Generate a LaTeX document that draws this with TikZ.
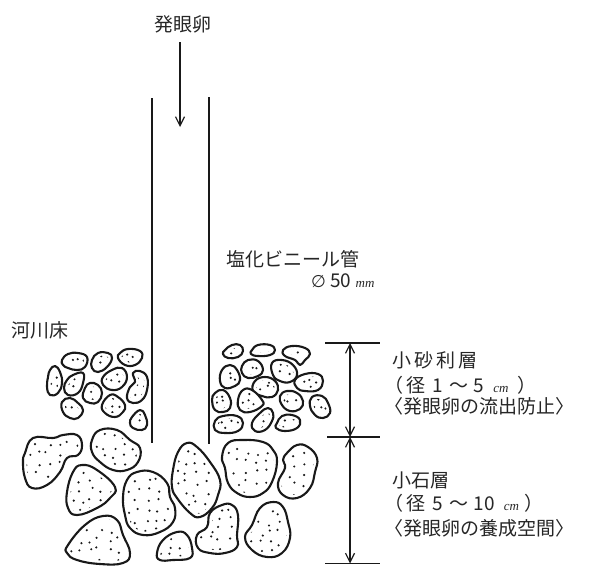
\documentclass[tikz,border=0pt]{standalone}
\usepackage{fontspec}
\setmainfont{Noto Sans CJK JP}
\newfontfamily\latinit{Liberation Serif}
\newfontfamily\symbfont{DejaVu Sans}
\usetikzlibrary{arrows.meta}

\tikzset{
  pipe/.style={line width=1.9pt, draw=black!90},
  stoneline/.style={line width=2.1pt, draw=black!90, line join=round},
  dimline/.style={line width=1.2pt, draw=black!90},
  barb/.tip={Straight Barb[length=9pt,width=9pt,line width=1.2pt]},
  flow/.style={line width=1.3pt, draw=black!90, -barb},
  lbl/.style={inner sep=0pt, anchor=west, font=\fontsize{19}{19}\selectfont, text=black!85},
}
\newcommand\unitcm{{\latinit\itshape\fontsize{13}{13}\selectfont cm}}

% a pebble: outline plus scattered dots kept away from the rim
\newcommand\pebble[2][10]{%
  \begin{scope}
    \begin{scope}[local bounding box=pb]
      \path plot[smooth cycle,tension=0.75] coordinates {#2};
    \end{scope}
    \path (pb.south west); \pgfgetlastxy{\pxa}{\pya}%
    \path (pb.north east); \pgfgetlastxy{\pxb}{\pyb}%
    \clip plot[smooth cycle,tension=0.75] coordinates {#2};
    \pgfmathtruncatemacro\pnx{(\pxb-\pxa)/#1}%
    \pgfmathtruncatemacro\pny{(\pyb-\pya)/#1}%
    \foreach \i in {0,...,\pnx}{\foreach \j in {0,...,\pny}{%
      \pgfmathsetmacro\pdx{\pxa+(\i+0.5)*#1+0.3*#1*rand}%
      \pgfmathsetmacro\pdy{\pya+(\j+0.5)*#1+0.3*#1*rand}%
      \fill[black!90] (\pdx pt,\pdy pt) circle[radius=1.2pt];
    }}
    \draw[white,line width=7pt] plot[smooth cycle,tension=0.75] coordinates {#2};
  \end{scope}
  \draw[stoneline] plot[smooth cycle,tension=0.75] coordinates {#2};
}

\begin{document}
\begin{tikzpicture}[x=1pt,y=-1pt]
\pgfmathsetseed{4}

% --- titles -------------------------------------------------------
\node[lbl, anchor=center] (egg) at (183,24) {発眼卵};
\node[lbl] (pvc) at (226,259) {塩化ビニール管};
\node[lbl] (dia) at (311,281) {{\symbfont\fontsize{17}{17}\selectfont ∅} 50 {\latinit\itshape\fontsize{13}{13}\selectfont mm}};
\node[lbl] (bed) at (11,330) {河川床};

% --- inflow arrow and pipe ----------------------------------------
\coordinate (a1) at (180,42);
\coordinate (a2) at (180,127);
\draw[flow] (a1) -- (a2);

\coordinate (pl1) at (152,98);
\coordinate (pl2) at (152,443);
\coordinate (pr1) at (209,97);
\coordinate (pr2) at (209,444);
\draw[pipe] (pl1) -- (pl2);
\draw[pipe] (pr1) -- (pr2);

% --- layer dimensions ---------------------------------------------
\coordinate (ht1) at (325,343); \coordinate (ht2) at (380,343);
\coordinate (hm1) at (327,437); \coordinate (hm2) at (380,437);
\coordinate (hb1) at (325,563.5); \coordinate (hb2) at (380,563.5);
\coordinate (vt) at (350,343);
\coordinate (vm) at (350,437);
\coordinate (vb) at (350,563.5);
\draw[dimline] (ht1) -- (ht2);
\draw[dimline] (hm1) -- (hm2);
\draw[dimline] (hb1) -- (hb2);
\draw[dimline, barb-barb] (vt) -- (vm);
\draw[dimline, barb-barb] (vm) -- (vb);

% --- layer labels -------------------------------------------------
\node[lbl] (g1) at (392,360) {小\,砂\,利\,層};
\node[lbl] (g2) at (384,385) {（\hspace{3pt}径\hspace{7pt}1\hspace{7pt}～\hspace{5pt}5\hspace{9pt}\unitcm\hspace{9pt}）};
\node[lbl] (g3) at (384,406) {〈発眼卵の流出防止〉};
\node[lbl] (s1) at (392,480) {小石層};
\node[lbl] (s2) at (384,503) {（\hspace{3pt}径\hspace{7pt}5\hspace{7pt}～\hspace{5pt}10\hspace{9pt}\unitcm\hspace{6pt}）};
\node[lbl] (s3) at (384,528) {〈発眼卵の養成空間〉};

% --- gravel layer, left of the pipe -------------------------------
\pebble[7]{(62,360) (68,354) (78,353) (87,357) (85,367) (77,370) (68,368) (63,365)}
\pebble[7]{(92,360) (98,353) (108,353) (112,358) (107,367) (98,372) (92,368)}
\pebble[7]{(120,353) (128,349) (140,351) (142,358) (135,365) (125,365) (118,358)}
\pebble[7]{(50,370) (55,366) (60,372) (62,383) (58,393) (50,395) (47,387) (48,377)}
\pebble[7]{(67,380) (73,375) (83,373) (83,383) (78,393) (68,395) (64,388)}
\pebble[7]{(85,388) (90,383) (98,385) (102,393) (98,402) (90,403) (83,398)}
\pebble[7]{(103,377) (112,370) (122,368) (127,377) (122,387) (112,390) (103,385)}
\pebble[7]{(133,373) (140,371) (147,377) (147,390) (142,400) (133,403) (127,398) (130,387) (135,382)}
\pebble[7]{(62,402) (70,398) (78,403) (83,410) (78,418) (70,418) (63,412)}
\pebble[7]{(102,405) (110,395) (118,397) (125,405) (123,412) (115,417) (105,413)}
\pebble[7]{(132,417) (140,410) (145,415) (147,425) (142,430) (133,428) (130,423)}

% --- gravel layer, right of the pipe ------------------------------
\pebble[7]{(225,350) (232,345) (240,345) (243,351) (238,357) (228,358) (223,354)}
\pebble[7]{(252,350) (258,345) (270,345) (275,350) (270,355) (258,356) (251,354)}
\pebble[7]{(283,350) (292,346) (305,348) (310,354) (305,360) (300,365) (295,360) (285,356)}
\pebble[7]{(222,370) (230,365) (237,370) (240,380) (235,386) (225,388) (220,381)}
\pebble[7]{(242,366) (248,360) (258,361) (263,370) (258,376) (248,378) (242,373)}
\pebble[7]{(272,363) (282,360) (293,365) (297,375) (290,382) (280,381) (273,375)}
\pebble[7]{(255,381) (265,377) (275,381) (278,390) (272,397) (262,396) (253,391)}
\pebble[7]{(295,380) (305,374) (318,374) (323,381) (318,390) (305,391) (297,388)}
\pebble[7]{(215,393) (223,390) (230,398) (230,408) (223,412) (215,410) (212,400)}
\pebble[7]{(238,400) (243,390) (252,390) (262,400) (262,406) (250,412) (240,410)}
\pebble[7]{(280,396) (287,391) (297,393) (303,401) (300,409) (290,411) (282,405)}
\pebble[7]{(312,397) (322,396) (328,403) (330,413) (323,418) (315,415) (310,406)}
\pebble[7]{(215,421) (223,416) (237,416) (243,423) (238,431) (225,433) (215,430)}
\pebble[7]{(252,423) (260,413) (268,408) (273,413) (272,421) (265,430) (255,431)}
\pebble[7]{(277,423) (282,416) (292,415) (300,420) (297,428) (285,431) (276,428)}

% --- cobble layer -------------------------------------------------
\pebble{(25,453) (33,438) (53,438) (63,435) (77,435) (82,445) (78,455) (67,458) (60,472) (47,485) (32,488) (25,478) (23,462)}
\pebble{(92,440) (100,430) (117,430) (130,440) (140,448) (138,462) (127,470) (113,470) (100,462) (92,452)}
\pebble{(73,472) (82,465) (97,470) (115,487) (110,498) (97,508) (77,515) (68,508) (67,492)}
\pebble{(127,480) (137,472) (153,472) (167,483) (170,497) (175,508) (173,522) (160,532) (143,535) (130,528) (125,515) (123,497)}
\pebble{(68,545) (85,525) (103,516) (117,520) (123,535) (130,553) (123,563) (100,564) (77,560) (67,553)}
\pebble{(178,452) (187,443) (197,447) (210,462) (220,480) (218,495) (212,508) (200,517) (190,513) (177,498) (172,487) (173,470)}
\pebble{(222,457) (228,443) (243,440) (263,442) (273,450) (277,462) (272,482) (263,493) (250,497) (237,493) (228,483) (225,468)}
\pebble{(287,453) (297,445) (308,447) (317,458) (315,472) (310,488) (297,498) (283,495) (278,483) (285,468) (283,460)}
\pebble{(210,513) (222,505) (232,505) (238,515) (237,535) (237,547) (225,553) (210,553) (198,548) (197,535) (207,527)}
\pebble{(252,525) (260,508) (273,502) (283,507) (288,522) (290,538) (282,553) (267,557) (252,550) (245,537)}
\pebble{(157,553) (163,540) (177,532) (187,535) (192,548) (190,558) (173,560) (160,560)}

% picture frame
\pgfresetboundingbox
\useasboundingbox (0,0) rectangle (597,565);
\end{tikzpicture}
\end{document}
